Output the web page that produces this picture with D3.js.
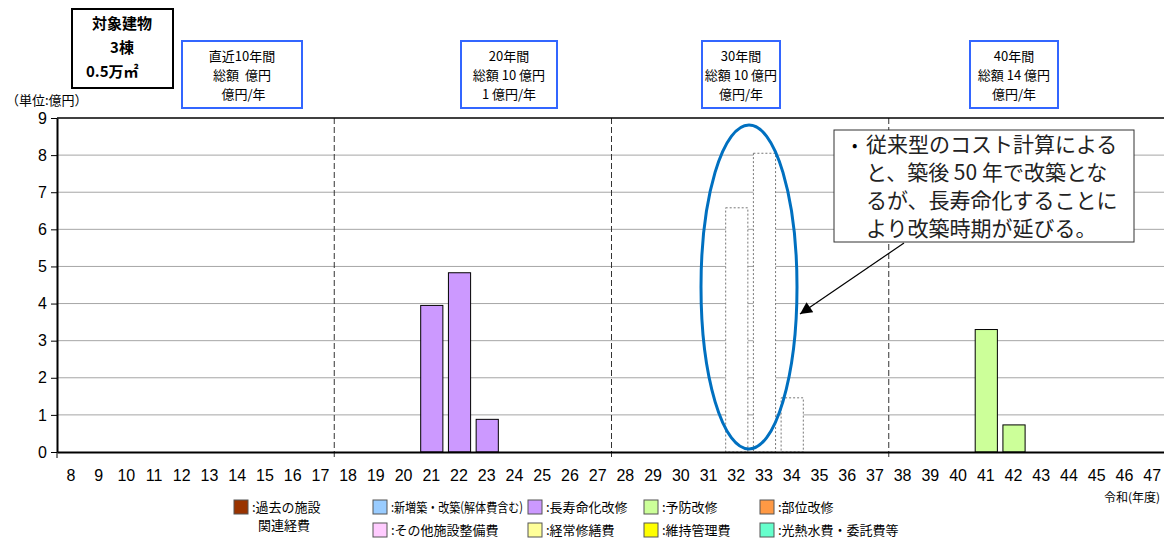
<!DOCTYPE html>
<html>
<head>
<meta charset="utf-8">
<script src="https://cdn.jsdelivr.net/npm/d3@7"></script>
<style>
  body { margin: 0; background: #fff; }
  svg { font-family: "Noto Sans CJK JP", "Noto Sans", sans-serif; }
</style>
</head>
<body>
<div id="chart-area"></div>
<script>
// Data
const years = [8, 9, 10, 11, 12, 13, 14, 15, 16, 17, 18, 19, 20, 21, 22, 23, 24, 25, 26, 27,
  28, 29, 30, 31, 32, 33, 34, 35, 36, 37, 38, 39, 40, 41, 42, 43, 44, 45, 46, 47]
const yTicks = [0, 1, 2, 3, 4, 5, 6, 7, 8, 9]
const longLifeYears = [21, 22, 23]
const longLifeValues = [3.95, 4.83, 0.88]
const preventiveYears = [41, 42]
const preventiveValues = [3.3, 0.73]
const conventionalYears = [32, 33, 34]
const conventionalValues = [6.58, 8.05, 1.46]
const periodBreaks = [17, 27, 37]

const periodLabels = [
  ["直近10年間", "総額  億円", " 億円/年"],
  ["20年間", "総額 10 億円", "1 億円/年"],
  ["30年間", "総額 10 億円", "億円/年"],
  ["40年間", "総額 14 億円", "億円/年"]
]
const targetLabels = ["対象建物", "3棟", "0.5万㎡"]
const noteLines = ["従来型のコスト計算による", "と、築後 50 年で改築とな", "るが、長寿命化することに", "より改築時期が延びる。"]

const legendNames = [":過去の施設", ":新増築・改築(解体費含む)", ":長寿命化改修", ":予防改修", ":部位改修",
  ":その他施設整備費", ":経常修繕費", ":維持管理費", ":光熱水費・委託費等"]
const legendColors = ["#993300", "#99CCFF", "#CC99FF", "#CCFF99", "#FF9944",
  "#FFCCFF", "#FFFF99", "#FFFF00", "#66FFCC"]

const WIDTH = 1164
const HEIGHT = 538
const PLOT = { LEFT: 57, RIGHT: 1166, TOP: 118, BOTTOM: 452 }

const svg = d3.select("#chart-area").append("svg")
  .attr("width", WIDTH)
  .attr("height", HEIGHT)

// Scales
const x = d3.scaleBand()
  .domain(years)
  .range([PLOT.LEFT, PLOT.RIGHT])
  .paddingInner(0.2)
  .paddingOuter(0.1)
const y = d3.scaleLinear()
  .domain([0, 9])
  .range([PLOT.BOTTOM, PLOT.TOP])
const step = x.step()
const boundary = yr => x(yr) - x.step() * x.paddingInner() / 2 + step

// Gridlines
svg.append("g")
  .selectAll("line")
  .data(yTicks.filter(d => d > 0 && d < 9))
  .enter().append("line")
  .attr("x1", PLOT.LEFT).attr("x2", PLOT.RIGHT)
  .attr("y1", d => y(d)).attr("y2", d => y(d))
  .attr("stroke", "#a6a6a6")
  .attr("stroke-width", 1)

// period separators
svg.append("g")
  .selectAll("line")
  .data(periodBreaks)
  .enter().append("line")
  .attr("x1", d => boundary(d)).attr("x2", d => boundary(d))
  .attr("y1", PLOT.TOP).attr("y2", PLOT.BOTTOM + 6)
  .attr("stroke", "#333")
  .attr("stroke-dasharray", "6,3")

// Conventional (dashed) bars
svg.append("g")
  .selectAll("rect")
  .data(conventionalYears)
  .enter().append("rect")
  .attr("x", d => x(d) + 0.5)
  .attr("width", x.bandwidth())
  .attr("y", (d, i) => y(conventionalValues[i]))
  .attr("height", (d, i) => y(0) - y(conventionalValues[i]))
  .attr("fill", "#fff")
  .attr("stroke", "#777")
  .attr("stroke-width", 1)
  .attr("stroke-dasharray", "2,2")

// Long life bars
svg.append("g")
  .selectAll("rect")
  .data(longLifeYears)
  .enter().append("rect")
  .attr("x", d => x(d) + 0.5)
  .attr("width", x.bandwidth())
  .attr("y", (d, i) => y(longLifeValues[i]))
  .attr("height", (d, i) => y(0) - y(longLifeValues[i]))
  .attr("fill", "#CC99FF")
  .attr("stroke", "#000")
  .attr("stroke-width", 1)

// Preventive bars
svg.append("g")
  .selectAll("rect")
  .data(preventiveYears)
  .enter().append("rect")
  .attr("x", d => x(d) + 0.5)
  .attr("width", x.bandwidth())
  .attr("y", (d, i) => y(preventiveValues[i]))
  .attr("height", (d, i) => y(0) - y(preventiveValues[i]))
  .attr("fill", "#CCFF99")
  .attr("stroke", "#000")
  .attr("stroke-width", 1)

// Frame top line
svg.append("line")
  .attr("x1", PLOT.LEFT).attr("x2", PLOT.RIGHT)
  .attr("y1", PLOT.TOP).attr("y2", PLOT.TOP)
  .attr("stroke", "#000").attr("stroke-width", 1.5)

// Y Axis
const yAxisCall = d3.axisLeft(y)
  .tickValues(yTicks)
  .tickSize(6)
  .tickSizeOuter(0)
const yAxis = svg.append("g")
  .attr("transform", `translate(${PLOT.LEFT}, 0)`)
  .call(yAxisCall)
yAxis.select(".domain").attr("stroke-width", 2)
yAxis.selectAll("text")
  .attr("font-size", "16px")
  .attr("font-family", "Liberation Sans, Arial, sans-serif")
  .attr("fill", "#000")
  .attr("x", -10)

// X Axis
const xAxisCall = d3.axisBottom(x)
  .tickSize(0)
  .tickSizeOuter(0)
const xAxis = svg.append("g")
  .attr("transform", `translate(0, ${PLOT.BOTTOM})`)
  .call(xAxisCall)
xAxis.select(".domain").attr("stroke-width", 2)
xAxis.selectAll("text")
  .attr("font-size", "16px")
  .attr("font-family", "Liberation Sans Narrow, Liberation Sans, sans-serif")
  .attr("fill", "#000")
  .attr("dy", "1.6em")

// x-axis tick at left
svg.append("line")
  .attr("x1", PLOT.LEFT).attr("x2", PLOT.LEFT)
  .attr("y1", PLOT.BOTTOM).attr("y2", PLOT.BOTTOM + 6)
  .attr("stroke", "#000")

// Unit label
svg.append("text")
  .attr("x", 6).attr("y", 105)
  .attr("font-size", "13px")
  .text("（単位:億円）")

// Target building box
svg.append("rect")
  .attr("x", 72).attr("y", 9)
  .attr("width", 101).attr("height", 79)
  .attr("fill", "#fff")
  .attr("stroke", "#000").attr("stroke-width", 2)
svg.append("g")
  .selectAll("text")
  .data(targetLabels)
  .enter().append("text")
  .attr("x", (d, i) => i < 2 ? 122 : 86)
  .attr("y", (d, i) => 29 + i * 24)
  .attr("text-anchor", (d, i) => i < 2 ? "middle" : "start")
  .attr("font-size", "15px")
  .attr("font-weight", "bold")
  .text(d => d)

// Period boxes
const boxX = [182, 461, 702, 970]
const boxW = [120, 96, 78, 88]
const periodBox = svg.append("g")
  .selectAll("g")
  .data(periodLabels)
  .enter().append("g")
  .attr("transform", (d, i) => `translate(${boxX[i]}, 41)`)
periodBox.append("rect")
  .attr("width", (d, i) => boxW[i])
  .attr("height", 67)
  .attr("fill", "#fff")
  .attr("stroke", "#3366FF")
  .attr("stroke-width", 2)
periodBox.each(function (lines, i) {
  d3.select(this).selectAll("text")
    .data(lines)
    .enter().append("text")
    .attr("x", boxW[i] / 2)
    .attr("y", (d, j) => 20 + j * 19)
    .attr("text-anchor", "middle")
    .attr("font-size", "13px")
    .attr("xml:space", "preserve")
    .text(d => d)
})

// Ellipse highlight
svg.append("ellipse")
  .attr("cx", 749).attr("cy", 287)
  .attr("rx", 48).attr("ry", 162)
  .attr("fill", "none")
  .attr("stroke", "#0070C0")
  .attr("stroke-width", 3)

// Arrow
svg.append("defs").append("marker")
  .attr("id", "arrow")
  .attr("viewBox", "0 0 10 10")
  .attr("refX", 10).attr("refY", 5)
  .attr("markerWidth", 16).attr("markerHeight", 12)
  .attr("markerUnits", "userSpaceOnUse")
  .attr("orient", "auto")
  .append("path")
  .attr("d", "M0,0 L10,5 L0,10 z")
  .attr("fill", "#000")
svg.append("line")
  .attr("x1", 904).attr("y1", 243)
  .attr("x2", 800).attr("y2", 314)
  .attr("stroke", "#000").attr("stroke-width", 1.2)
  .attr("marker-end", "url(#arrow)")

// Note box
svg.append("rect")
  .attr("x", 834).attr("y", 130)
  .attr("width", 300).attr("height", 112)
  .attr("fill", "#fff")
  .attr("stroke", "#333").attr("stroke-width", 1)
svg.append("text")
  .attr("x", 852).attr("y", 151)
  .attr("font-size", "16px")
  .text("•")
svg.append("g")
  .selectAll("text")
  .data(noteLines)
  .enter().append("text")
  .attr("x", 866)
  .attr("y", (d, i) => 152 + i * 28)
  .attr("font-size", "21px")
  .attr("fill", "#222")
  .text(d => d)

// Legend
const legend = svg.append("g")
  .selectAll("g")
  .data(legendNames)
  .enter().append("g")
  .attr("transform", (d, i) => {
    const col = i === 0 ? 0 : (i < 5 ? i : i - 4)
    const row = i < 5 ? 0 : 1
    const lx = [234, 373, 528, 644, 760][col]
    return `translate(${lx}, ${500 + row * 23})`
  })
legend.append("rect")
  .attr("width", 14).attr("height", 14)
  .attr("fill", (d, i) => legendColors[i])
  .attr("stroke", "#555").attr("stroke-width", 1)
legend.append("text")
  .attr("x", 18).attr("y", 12)
  .attr("font-size", "13px")
  .text(d => d)
  .each(function () {
    // squeeze the long label so it stays clear of the next square
    if (this.getComputedTextLength() > 132) {
      d3.select(this).attr("textLength", 132).attr("lengthAdjust", "spacingAndGlyphs")
    }
  })
svg.append("text")
  .attr("x", 258).attr("y", 530)
  .attr("font-size", "13px")
  .text("関連経費")

// x unit
svg.append("text")
  .attr("x", 1160).attr("y", 502)
  .attr("text-anchor", "end")
  .attr("font-size", "12px")
  .text("令和(年度)")
</script>
</body>
</html>
